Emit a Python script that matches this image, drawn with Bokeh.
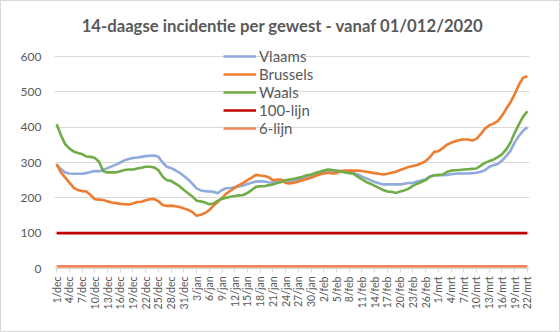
import math
from bokeh.plotting import figure
from bokeh.models import Range1d, FixedTicker, Label, Legend, LegendItem
from bokeh.embed import file_html
from bokeh.resources import INLINE

title_text = "14-daagse incidentie per gewest - vanaf 01/012/2020"

tick_labels = ["1/dec", "4/dec", "7/dec", "10/dec", "13/dec", "16/dec", "19/dec", "22/dec",
               "25/dec", "28/dec", "31/dec", "3/jan", "6/jan", "9/jan", "12/jan", "15/jan",
               "18/jan", "21/jan", "24/jan", "27/jan", "30/jan", "2/feb", "5/feb", "8/feb",
               "11/feb", "14/feb", "17/feb", "20/feb", "23/feb", "26/feb", "1/mrt", "4/mrt",
               "7/mrt", "10/mrt", "13/mrt", "16/mrt", "19/mrt", "22/mrt"]

vlaams = [293, 282, 272, 269, 268, 268, 268, 270, 273, 276, 275, 279, 284, 289, 294, 300,
          306, 310, 313, 314, 316, 318, 319, 320, 316, 300, 288, 284, 278, 271, 262, 252,
          240, 227, 221, 219, 218, 217, 213, 222, 227, 228, 230, 232, 235, 239, 243, 246,
          247, 246, 244, 243, 245, 247, 250, 248, 250, 252, 256, 259, 262, 266, 270, 273,
          275, 275, 275, 275, 275, 274, 270, 266, 260, 255, 250, 245, 241, 238, 238, 238,
          238, 238, 240, 242, 242, 246, 249, 253, 260, 263, 264, 264, 265, 267, 268, 269,
          269, 269, 270, 271, 274, 278, 288, 292, 296, 305, 318, 333, 357, 375, 390, 400]

brussels = [296, 272, 258, 243, 229, 222, 219, 218, 208, 196, 195, 194, 190, 187, 185, 183,
            182, 181, 184, 188, 189, 193, 196, 197, 190, 180, 177, 178, 176, 174, 170, 166,
            160, 149, 152, 157, 165, 178, 188, 200, 212, 220, 228, 236, 242, 250, 257, 265,
            263, 262, 258, 250, 252, 252, 242, 241, 243, 246, 250, 253, 257, 262, 266, 269,
            271, 269, 270, 276, 277, 277, 277, 277, 276, 274, 272, 270, 268, 266, 268, 271,
            274, 279, 283, 287, 290, 293, 298, 304, 315, 330, 332, 340, 350, 356, 360, 364,
            365, 365, 362, 367, 380, 396, 405, 410, 417, 432, 452, 470, 493, 520, 540, 544]

waals = [408, 378, 352, 340, 331, 327, 324, 317, 316, 313, 302, 275, 272, 272, 272, 275,
         279, 280, 280, 283, 285, 288, 288, 286, 278, 260, 250, 248, 240, 233, 222, 213,
         204, 192, 190, 187, 182, 184, 192, 197, 200, 203, 205, 207, 208, 214, 222, 231,
         233, 233, 236, 238, 242, 245, 250, 252, 254, 257, 260, 264, 266, 270, 274, 277,
         280, 279, 277, 275, 272, 270, 268, 260, 252, 245, 240, 234, 228, 222, 218, 217,
         214, 218, 221, 226, 234, 240, 245, 250, 260, 264, 265, 266, 273, 277, 278, 279,
         280, 281, 282, 283, 291, 299, 304, 308, 315, 323, 337, 356, 384, 408, 430, 445]

lijn100 = [100] * len(vlaams)
lijn6 = [6] * len(vlaams)
days = list(range(len(vlaams)))

FONT = "Lato"
GREY = "#595959"
GRID = "#D9D9D9"

p = figure(width=560, height=332, output_backend="svg", toolbar_location=None,
           x_range=Range1d(-0.5, len(days) - 0.5), y_range=Range1d(0, 755.7),
           min_border_left=53, min_border_right=32, min_border_top=0, min_border_bottom=65)
p.outline_line_color = None
p.background_fill_color = "white"
p.border_fill_color = "white"
p.styles = {"border": "1px solid #D9D9D9", "box-sizing": "border-box"}

p.xgrid.grid_line_color = None
p.ygrid.grid_line_color = GRID
p.ygrid.ticker = FixedTicker(ticks=[100, 200, 300, 400, 500, 600])

p.yaxis.ticker = FixedTicker(ticks=[0, 100, 200, 300, 400, 500, 600])
p.yaxis.axis_line_color = None
p.yaxis.major_tick_line_color = None
p.yaxis.minor_tick_line_color = None
p.yaxis.major_label_text_font = FONT
p.yaxis.major_label_text_font_size = "12px"
p.yaxis.major_label_text_color = GREY
p.yaxis.major_label_standoff = 7

p.xaxis.ticker = FixedTicker(ticks=days[::3])
p.xaxis.major_label_overrides = {d: t for d, t in zip(days[::3], tick_labels)}
p.xaxis.major_label_orientation = math.pi / 2
p.xaxis.axis_line_color = GRID
p.xaxis.major_tick_line_color = GRID
p.xaxis.major_tick_out = 4
p.xaxis.major_tick_in = 0
p.xaxis.minor_tick_line_color = None
p.xaxis.major_label_text_font = FONT
p.xaxis.major_label_text_font_size = "10.5px"
p.xaxis.major_label_text_color = GREY
p.xaxis.major_label_standoff = 4

series = [
    ("Vlaams", vlaams, "#8FAADC", 2.6),
    ("Brussels", brussels, "#ED7D31", 2.6),
    ("Waals", waals, "#70AD47", 2.6),
    ("100-lijn", lijn100, "#C00000", 2.6),
    ("6-lijn", lijn6, "#F0875F", 2.6),
]
items = []
for name, vals, col, w in series:
    r = p.line(days, vals, line_color=col, line_width=w)
    items.append(LegendItem(label=name, renderers=[r]))

legend = Legend(items=items, location=(169, 131), orientation="vertical",
                background_fill_alpha=0, border_line_alpha=0, padding=0, margin=0,
                spacing=0, glyph_width=33, glyph_height=18, label_height=18,
                label_standoff=3, label_text_font=FONT, label_text_font_size="15px",
                label_text_color=GREY)
p.add_layout(legend, "center")

p.add_layout(Label(x=53.3, y=686, text=title_text, text_align="center", text_baseline="middle",
                   text_font=FONT, text_font_style="bold", text_font_size="16.7px",
                   text_color=GREY))

open("out.html", "w").write(file_html(p, INLINE))
